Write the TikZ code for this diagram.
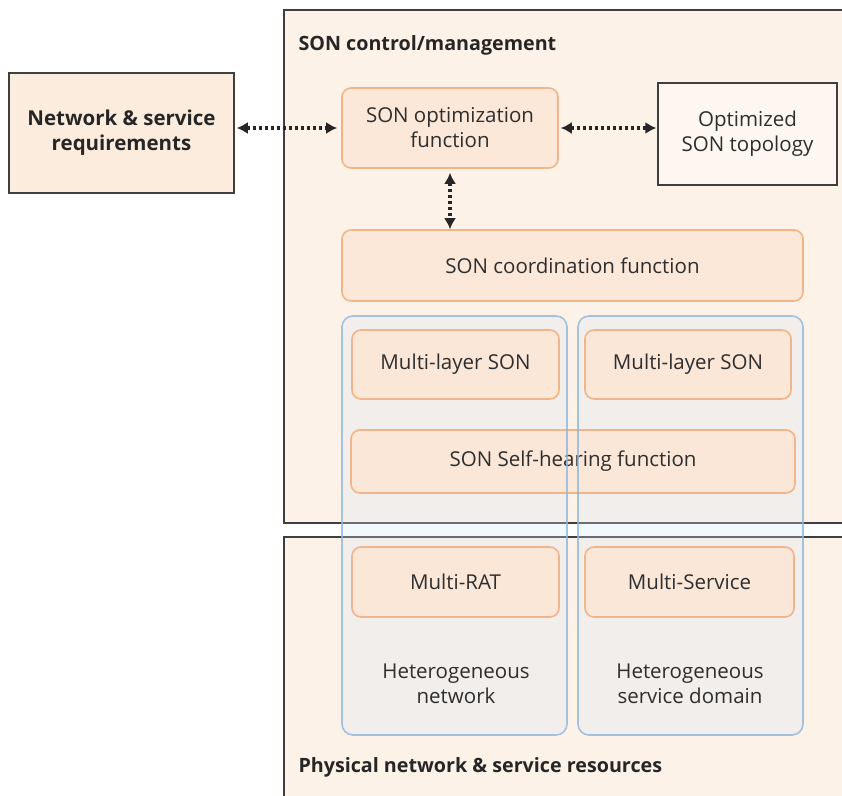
\documentclass[tikz,border=0pt]{standalone}
\usepackage{fontspec}
\setmainfont{Open Sans}
\usetikzlibrary{arrows.meta}
\definecolor{peachbg}{HTML}{FDF2E7}
\definecolor{boxfill}{HTML}{FCE7D6}
\definecolor{boxline}{HTML}{F1B58C}
\definecolor{darkline}{HTML}{3F3F3F}
\definecolor{txt}{HTML}{2E2E2E}
\definecolor{colfill}{HTML}{D6E6F6}
\definecolor{colline}{HTML}{8FB6DC}
\tikzset{
  orangebox/.style={draw=boxline, fill=boxfill, fill opacity=0.88, text opacity=1, line width=1.6pt, rounded corners=9pt,
    text=txt, align=center, inner sep=0pt, font=\fontsize{20.5}{25}\selectfont},
  plainbox/.style={draw=darkline, line width=1.5pt, text=txt, align=center, inner sep=0pt,
    font=\fontsize{20.5}{25}\selectfont},
  columnfill/.style={fill=colfill, fill opacity=0.28, rounded corners=11pt},
  columnline/.style={draw=colline, draw opacity=0.8, line width=1.6pt, rounded corners=11pt},
  dotarrow/.style={line width=3.6pt, dash pattern=on 3pt off 3pt, black!85,
    {Latex[length=11pt,width=12pt]}-{Latex[length=11pt,width=12pt]}},
  title/.style={anchor=west, text=black!85, font=\bfseries\fontsize{19.7}{24}\selectfont},
  plaintext/.style={text=txt, align=center, font=\fontsize{20.5}{25}\selectfont}
}
\begin{document}
\begin{tikzpicture}[x=1pt,y=-1pt]
\useasboundingbox (0,0) rectangle (842,795);
\clip (0,0) rectangle (842,795);
\fill[white] (0,0) rectangle (842,795);
% big areas
\draw[fill=peachbg, draw=darkline, line width=1.6pt] (284,10) rectangle (860,523);
\draw[fill=peachbg, draw=darkline, line width=1.6pt] (284,537) rectangle (860,820);
\node[title] (ctl) at (295,45) {SON control/management};
\node[title] (phy) at (295,767) {Physical network \& service resources};
% column backgrounds
\fill[columnfill] (342,316) rectangle (567,735);
\fill[columnfill] (578,316) rectangle (803,735);
% nodes
\node[plainbox, fill=boxfill!55!peachbg, minimum width=225pt, minimum height=120pt,
  font=\bfseries\fontsize{20.5}{25}\selectfont, text=black!85] (net) at (121.5,133) {Network \& service\\requirements};
\node[orangebox, minimum width=216pt, minimum height=80pt] (opt) at (450,128) {SON optimization\\function};
\node[plainbox, fill=peachbg!60!white, line width=1.3pt, minimum width=179pt, minimum height=102pt] (topo) at (747.5,134) {Optimized\\SON topology};
\node[orangebox, minimum width=461pt, minimum height=71pt] (coord) at (572.5,265.5) {SON coordination function};
\node[orangebox, minimum width=207pt, minimum height=69pt] (ml1) at (455.5,364.5) {Multi-layer SON};
\node[orangebox, minimum width=206pt, minimum height=69pt] (ml2) at (688,364.5) {Multi-layer SON};
\node[orangebox, minimum width=444pt, minimum height=63pt] (heal) at (573,461.5) {SON Self-hearing function};
\node[orangebox, minimum width=207pt, minimum height=70pt] (rat) at (455.5,582) {Multi-RAT};
\node[orangebox, minimum width=209pt, minimum height=70pt] (svc) at (689.5,582) {Multi-Service};
% column outlines
\draw[columnline] (342,316) rectangle (567,735);
\draw[columnline] (578,316) rectangle (803,735);
\node[plaintext] (het1) at (456,684) {Heterogeneous\\network};
\node[plaintext] (het2) at (690,684) {Heterogeneous\\service domain};
% connectors
\draw[dotarrow, shorten <=2pt, shorten >=4pt] (opt.west -| net.east) -- (opt.west);
\draw[dotarrow, shorten <=2pt, shorten >=1pt] (opt.east) -- (opt.east -| topo.west);
\draw[dotarrow, shorten <=4pt, shorten >=0pt] (opt.south) -- (coord.north -| opt.south);
\end{tikzpicture}
\end{document}
